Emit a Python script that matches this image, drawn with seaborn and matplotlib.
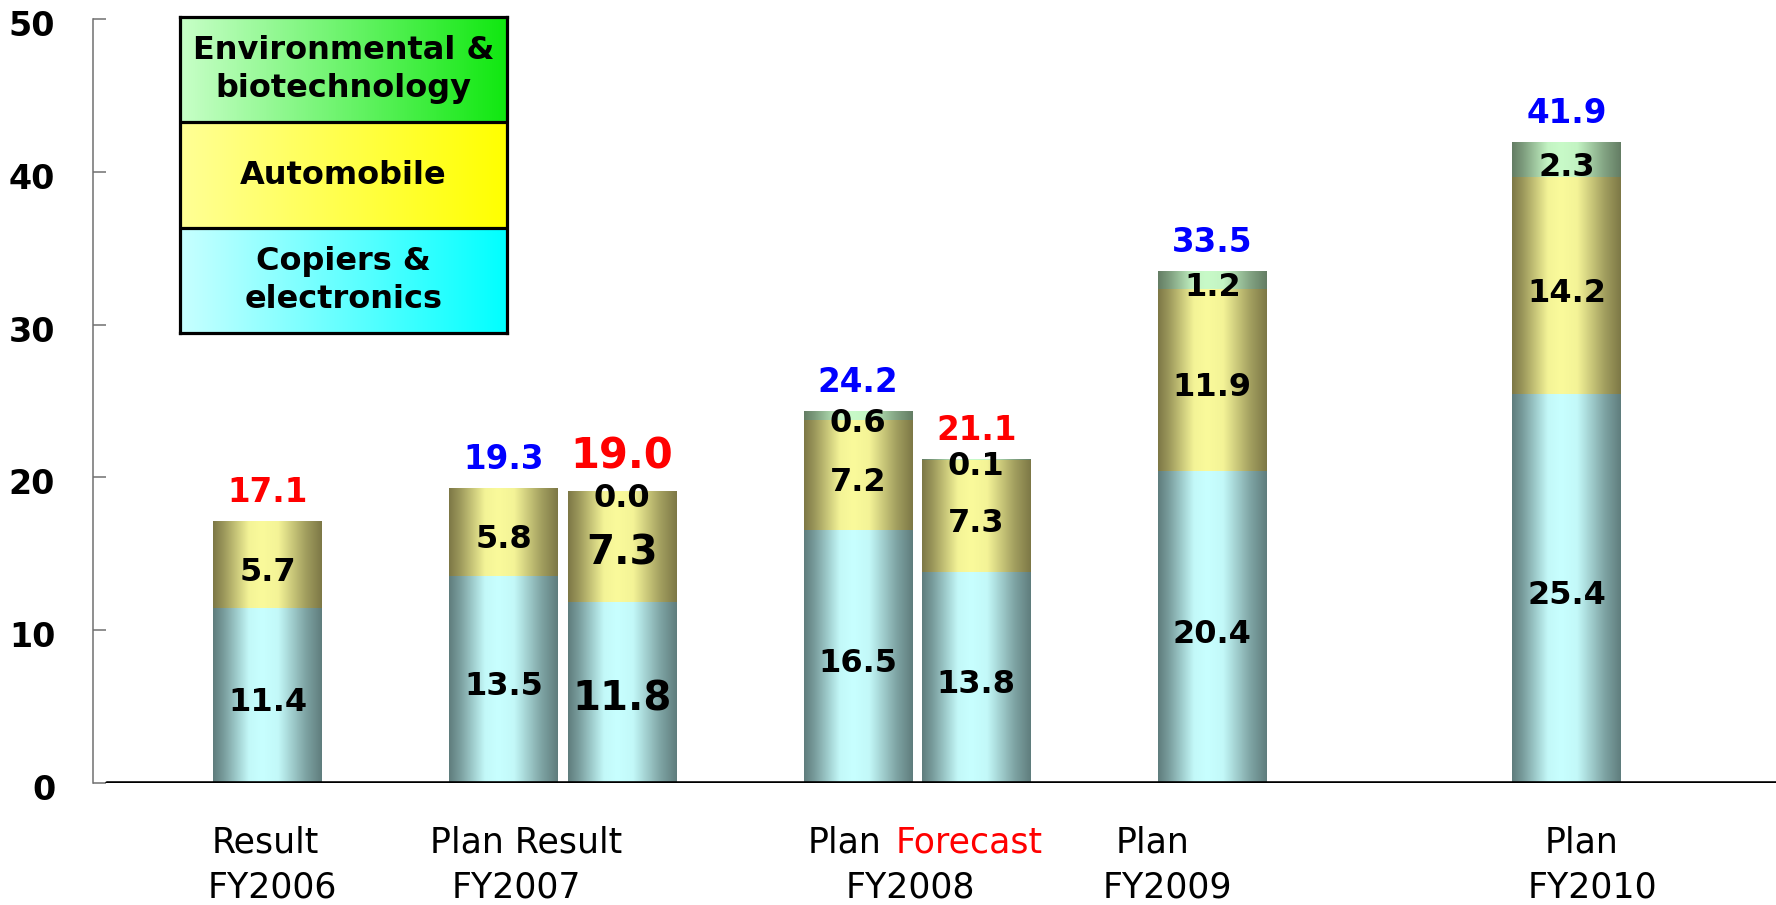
import numpy as np
import pandas as pd
import matplotlib
matplotlib.use("Agg")
import matplotlib.pyplot as plt
import seaborn as sns
from matplotlib.transforms import ScaledTranslation

# ---------------- data ----------------
positions = [0, 2, 3, 5, 6, 8, 11]
copiers = [11.4, 13.5, 11.8, 16.5, 13.8, 20.4, 25.4]
automobile = [5.7, 5.8, 7.3, 7.2, 7.3, 11.9, 14.2]
environmental = [0.0, 0.0, 0.0, 0.6, 0.1, 1.2, 2.3]
env_label_shown = [False, False, True, True, True, True, True]
totals = [17.1, 19.3, 19.0, 24.2, 21.1, 33.5, 41.9]
total_colors = ["#ff0000", "#0000ff", "#ff0000", "#0000ff", "#ff0000", "#0000ff", "#0000ff"]
emphasized = [False, False, True, False, False, False, False]

group_line1 = ["Result", "Plan Result", "Plan Forecast", "Plan", "Plan"]
group_line2 = ["FY2006", "FY2007", "FY2008", "FY2009", "FY2010"]
y_ticks = [0, 10, 20, 30, 40, 50]
legend_labels = ["Copiers &\nelectronics", "Automobile", "Environmental &\nbiotechnology"]

# ---------------- layout / style ----------------
line1_x = [-0.02, 2.19, 5.26, 7.49, 11.13]
line2_x = [0.04, 2.11, 5.44, 7.62, 11.22]

sns.set_style("white")
plt.rcParams["font.family"] = ["DejaVu Sans"]
plt.rcParams["text.color"] = "black"
plt.rcParams["ytick.color"] = "black"
plt.rcParams["xtick.color"] = "black"

W, H = 1776, 905
fig = plt.figure(figsize=(W / 100, H / 100), dpi=100)
ax = fig.add_axes([92.7 / W, (H - 783) / H, 1 - 92.7 / W, (783 - 19) / H])

bar_colors = {
    "env": ("#647d64", "#c8fac8"),
    "auto": ("#7d7846", "#fafa9b"),
    "cop": ("#5f7d7d", "#c8ffff"),
}


def bar_gradient(dark, light, n=256):
    t = np.linspace(0, 1, n)
    w = np.interp(t, [0, 0.1, 0.33, 0.45, 0.6, 0.85, 1.0],
                  [0, 0.25, 0.95, 1.0, 0.95, 0.3, 0.0])
    d = np.array(matplotlib.colors.to_rgb(dark))
    l = np.array(matplotlib.colors.to_rgb(light))
    img = d[None, :] * (1 - w[:, None]) + l[None, :] * w[:, None]
    return img[None, :, :]


df = pd.DataFrame({"pos": positions, "cop": copiers, "auto": automobile, "env": environmental})
df["c1"] = df["cop"]
df["c2"] = df["c1"] + df["auto"]
df["c3"] = df["c2"] + df["env"]

layers = [("c3", "env"), ("c2", "auto"), ("c1", "cop")]
for i, (col, key) in enumerate(layers):
    dark, light = bar_colors[key]
    n_before = len(ax.patches)
    sns.barplot(data=df, x="pos", y=col, native_scale=True, width=0.92,
                errorbar=None, color=light, linewidth=0, ax=ax)
    img = bar_gradient(dark, light)
    for p in ax.patches[n_before:]:
        x0, w, y0, h = p.get_x(), p.get_width(), p.get_y(), p.get_height()
        p.set_facecolor("none")
        p.set_edgecolor("none")
        if h > 0:
            ax.imshow(img, extent=[x0, x0 + w, y0, y0 + h], aspect="auto",
                      interpolation="bilinear", zorder=2 + i)

ax.set_xlim(-1.481, 12.773)
ax.set_ylim(0, 50)
ax.set_xticks([])
ax.set_xlabel("")
ax.set_ylabel("")
ax.set_yticks(y_ticks)
ax.set_yticklabels([str(v) for v in y_ticks], fontsize=24, fontweight="bold", color="black")
ax.tick_params(axis="y", direction="in", length=9, width=1.1, color="#707070",
               labelcolor="black", pad=27, left=True)
for lab in ax.get_yticklabels():
    lab.set_transform(lab.get_transform() + ScaledTranslation(0, -0.04, fig.dpi_scale_trans))
for s in ["top", "right", "bottom"]:
    ax.spines[s].set_visible(False)
ax.spines["left"].set_color("#707070")
ax.spines["left"].set_linewidth(1.1)
ax.axhline(0, xmin=(107 - 92.7) / (W - 92.7), xmax=1, color="black", lw=2.6, zorder=8)

# segment labels
for i, x in enumerate(positions):
    fs = 29 if emphasized[i] else 23
    c1, c2 = df["c1"][i], df["c2"][i]
    segs = [(c1 / 2, copiers[i], True, fs),
            (c1 + automobile[i] / 2, automobile[i], True, fs),
            (c2 + environmental[i] / 2, environmental[i], env_label_shown[i], 23)]
    for yc, v, show, size in segs:
        if show:
            ax.annotate(f"{v:.1f}", (x, yc), xytext=(0, -5), textcoords="offset points",
                        ha="center", va="center", fontsize=size, fontweight="bold",
                        color="black", zorder=10)
    ax.annotate(f"{totals[i]:.1f}", (x, df["c3"][i]),
                xytext=(0, 16 if emphasized[i] else 14), textcoords="offset points",
                ha="center", va="baseline", fontsize=30 if emphasized[i] else 23.5,
                fontweight="bold", color=total_colors[i], zorder=10)

# category labels
lab_fs = 25
for j in range(len(group_line2)):
    if group_line1[j] == "Plan Forecast":
        first, second = group_line1[j].split(" ")
        ax.annotate(first, (line1_x[j], 0), xycoords=("data", "axes fraction"),
                    xytext=(-5, -43), textcoords="offset points", ha="right", va="center",
                    fontsize=lab_fs, color="black")
        ax.annotate(second, (line1_x[j], 0), xycoords=("data", "axes fraction"),
                    xytext=(5, -43), textcoords="offset points", ha="left", va="center",
                    fontsize=lab_fs, color="#ff0000")
    else:
        ax.annotate(group_line1[j], (line1_x[j], 0), xycoords=("data", "axes fraction"),
                    xytext=(0, -43), textcoords="offset points", ha="center", va="center",
                    fontsize=lab_fs, color="black")
    ax.annotate(group_line2[j], (line2_x[j], 0), xycoords=("data", "axes fraction"),
                xytext=(0, -75), textcoords="offset points", ha="center", va="center",
                fontsize=lab_fs, color="black")

# legend box
lax = fig.add_axes([180 / W, 1 - 333 / H, 327 / W, 316 / H])
legend_grads = [("#c8ffff", "#00ffff"), ("#ffff96", "#ffff00"), ("#c8ffc8", "#10e810")]
for k, (lab, (c_left, c_right)) in enumerate(zip(legend_labels, legend_grads)):
    t = np.linspace(0, 1, 256)[:, None]
    a = np.array(matplotlib.colors.to_rgb(c_left))
    b = np.array(matplotlib.colors.to_rgb(c_right))
    img = (a * (1 - t) + b * t)[None, :, :]
    lax.imshow(img, extent=[0, 1, k, k + 1], aspect="auto", interpolation="bilinear")
    lax.text(0.5, k + 0.5, lab, ha="center", va="center", fontsize=23,
             fontweight="bold", linespacing=1.3, color="black")
lax.set_xlim(0, 1)
lax.set_ylim(0, 3)
lax.axhline(1, color="black", lw=2.3)
lax.axhline(2, color="black", lw=2.3)
lax.set_xticks([])
lax.set_yticks([])
for s in lax.spines.values():
    s.set_visible(True)
    s.set_color("black")
    s.set_linewidth(2.3)

fig.savefig("out.png", dpi=100)
